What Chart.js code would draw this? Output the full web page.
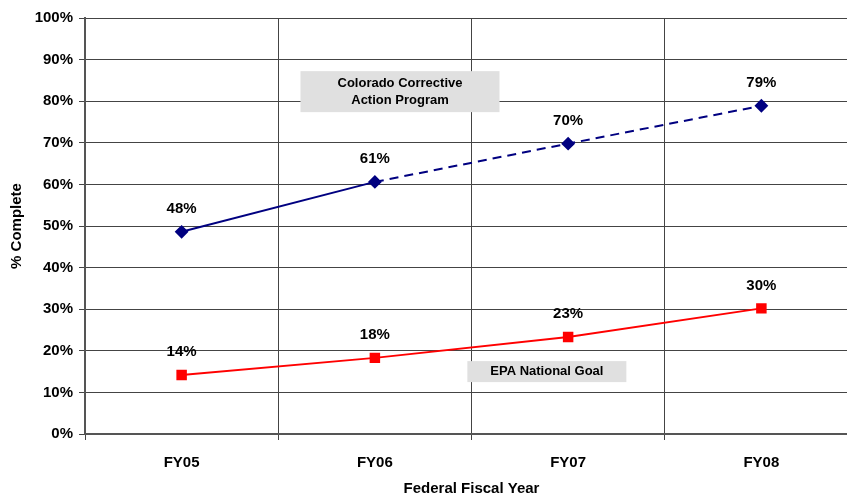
<!DOCTYPE html>
<html>
<head>
<meta charset="utf-8">
<script src="https://cdn.jsdelivr.net/npm/chart.js@4.4.0/dist/chart.umd.min.js"></script>
<style>
  html, body { margin: 0; padding: 0; background: #fff; overflow: hidden; }
  #wrap { width: 870px; height: 496px; }
</style>
</head>
<body>
<div id="wrap"><canvas id="grafico"></canvas></div>
<script>
// Datos del grafico
const categorias = ["FY05", "FY06", "FY07", "FY08"];
const colorado = [48.6, 60.6, 69.8, 78.9];
const coloradoEtiquetas = ["48%", "61%", "70%", "79%"];
const epa = [14.2, 18.3, 23.3, 30.2];
const epaEtiquetas = ["14%", "18%", "23%", "30%"];
const notas = ["Colorado Corrective\nAction Program", "EPA National Goal"];

const fuente = "'Liberation Sans', Arial, sans-serif";

// Etiquetas de valor encima de cada punto
const etiquetasPlugin = {
    id: "etiquetas",
    afterDatasetsDraw(chart) {
        const ctx = chart.ctx;
        const listas = [coloradoEtiquetas, epaEtiquetas];
        ctx.save();
        ctx.font = "bold 15px " + fuente;
        ctx.fillStyle = "#000";
        ctx.textAlign = "center";
        ctx.textBaseline = "middle";
        chart.data.datasets.forEach((ds, i) => {
            chart.getDatasetMeta(i).data.forEach((p, j) => {
                ctx.fillText(listas[i][j], p.x, p.y - 23);
            });
        });
        ctx.restore();
    }
};

// Cajas de texto (notas) sobre el grafico
const notasPlugin = {
    id: "notas",
    afterDatasetsDraw(chart) {
        const ctx = chart.ctx;
        const x = chart.scales.x, y = chart.scales.y;
        const cajas = [
            { texto: notas[0], cx: x.getPixelForValue(1.13), cy: y.getPixelForValue(82.3), w: 199, h: 41 },
            { texto: notas[1], cx: x.getPixelForValue(1.89), cy: y.getPixelForValue(15), w: 159, h: 21 }
        ];
        ctx.save();
        ctx.font = "bold 13px " + fuente;
        ctx.textAlign = "center";
        ctx.textBaseline = "middle";
        cajas.forEach(c => {
            ctx.fillStyle = "#e0e0e0";
            ctx.fillRect(c.cx - c.w / 2, c.cy - c.h / 2, c.w, c.h);
            ctx.fillStyle = "#000";
            const lineas = c.texto.split("\n");
            lineas.forEach((l, k) => {
                ctx.fillText(l, c.cx, c.cy + (k - (lineas.length - 1) / 2) * 17);
            });
        });
        ctx.restore();
    }
};

new Chart(document.getElementById("grafico").getContext("2d"), {
    type: "line",
    data: {
        labels: categorias,
        datasets: [
            {
                label: "Colorado Corrective Action Program",
                data: colorado,
                borderColor: "#000080",
                backgroundColor: "#000080",
                borderWidth: 2,
                pointStyle: "rectRot",
                pointRadius: 5.5,
                fill: false,
                segment: {
                    borderDash: c => c.p0DataIndex >= 1 ? [9, 6] : undefined
                }
            },
            {
                label: "EPA National Goal",
                data: epa,
                borderColor: "#ff0000",
                backgroundColor: "#ff0000",
                borderWidth: 2,
                pointStyle: "rect",
                pointRadius: 6,
                fill: false
            }
        ]
    },
    options: {
        responsive: true,
        maintainAspectRatio: false,
        animation: false,
        layout: { padding: { left: 0, right: 12, top: 18, bottom: 0 } },
        plugins: {
            legend: { display: false },
            tooltip: { enabled: false }
        },
        scales: {
            x: {
                offset: true,
                grid: { offset: true, color: "#444", lineWidth: 1, tickLength: 6 },
                border: { color: "#555", width: 2 },
                ticks: { color: "#000", font: { family: fuente, size: 15, weight: "bold" }, padding: 14 },
                title: { display: true, text: "Federal Fiscal Year", color: "#000", font: { family: fuente, size: 15, weight: "bold", lineHeight: 1 }, padding: 0 },
                afterFit: s => { s.height = 62; }
            },
            y: {
                min: 0,
                max: 100,
                grid: { color: "#444", lineWidth: 1, tickLength: 6 },
                border: { color: "#555", width: 2 },
                ticks: {
                    stepSize: 10,
                    color: "#000",
                    padding: 6,
                    font: { family: fuente, size: 15, weight: "bold" },
                    callback: v => v + "%"
                },
                title: { display: true, text: "% Complete", color: "#000", font: { family: fuente, size: 15, weight: "bold" }, padding: { top: 8, bottom: 0 } },
                afterFit: s => { s.width = 85; }
            }
        }
    },
    plugins: [etiquetasPlugin, notasPlugin]
});
</script>
</body>
</html>
